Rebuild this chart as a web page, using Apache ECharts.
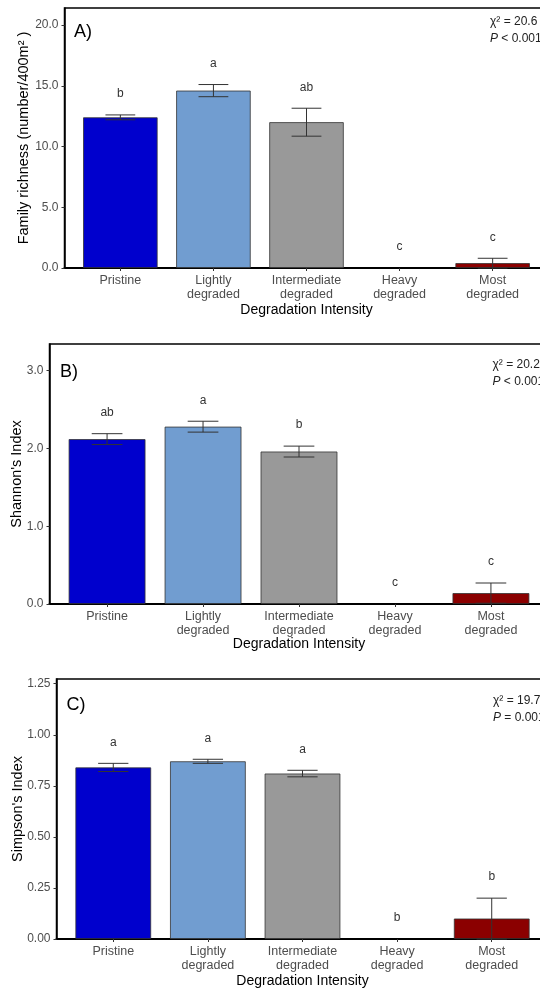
<!DOCTYPE html>
<html>
<head>
<meta charset="utf-8">
<script src="https://cdn.jsdelivr.net/npm/echarts@6/dist/echarts.min.js"></script>
<style>
html,body{margin:0;padding:0;background:#fff;}
#chart{width:540px;height:989px;}
</style>
</head>
<body>
<div id="chart"></div>
<script>
// ---- data ----
const categories = ['Pristine', 'Lightly\ndegraded', 'Intermediate\ndegraded', 'Heavy\ndegraded', 'Most\ndegraded'];
const barColors = ['#0000CD', '#719DD0', '#999999', '#999999', '#8B0000'];

const richnessMean = [12.4, 14.6, 12.0, 0, 0.4];
const richnessSE   = [0.2, 0.5, 1.15, 0, 0.4];
const richnessLetters = ['b', 'a', 'ab', 'c', 'c'];
const richnessTicks = [0, 5, 10, 15, 20];

const shannonMean = [2.12, 2.28, 1.96, 0, 0.14];
const shannonSE   = [0.07, 0.07, 0.07, 0, 0.13];
const shannonLetters = ['ab', 'a', 'b', 'c', 'c'];
const shannonTicks = [0, 1, 2, 3];

const simpsonMean = [0.84, 0.87, 0.81, 0, 0.10];
const simpsonSE   = [0.02, 0.01, 0.016, 0, 0.10];
const simpsonLetters = ['a', 'a', 'a', 'b', 'b'];
const simpsonTicks = [0, 0.25, 0.5, 0.75, 1.0, 1.25];

const panelLabels = ['A)', 'B)', 'C)'];
const chiValues = ['20.6', '20.2', '19.7'];
const pValues = ['< 0.001', '< 0.001', '= 0.001'];
const yTitles = ['Family richness (number/400m\u00B2 )', "Shannon's Index", "Simpson's Index"];
const xTitle = 'Degradation Intensity';
const catIndex = [0, 1, 2, 3, 4];

// ---- layout ----
const panels = [
  {mean: richnessMean, se: richnessSE, letters: richnessLetters, ticks: richnessTicks, max: 21.4, dec: 1,
   left: 64.5, top: 8, height: 260, yGap: 33.5, xGap: 35},
  {mean: shannonMean, se: shannonSE, letters: shannonLetters, ticks: shannonTicks, max: 3.343, dec: 1,
   left: 49.5, top: 344, height: 260, yGap: 25, xGap: 33},
  {mean: simpsonMean, se: simpsonSE, letters: simpsonLetters, ticks: simpsonTicks, max: 1.273, dec: 2,
   left: 56.5, top: 679, height: 260, yGap: 31, xGap: 35}
];
const W = 540, rightEdge = 548.5, xMin = -0.6, xMax = 4.6;
const FONT = 'Liberation Sans, Arial, sans-serif';

const grids = [], xAxes = [], yAxes = [], series = [], graphics = [];
panels.forEach((p, k) => {
  const width = rightEdge - p.left;
  const unit = width / (xMax - xMin);
  grids.push({left: p.left, top: p.top, height: p.height, width: width,
    outerBoundsMode: 'none', containLabel: false,
    show: true, borderColor: '#000', borderWidth: 1.5, backgroundColor: 'transparent'});
  xAxes.push({type: 'value', gridIndex: k, min: xMin, max: xMax,
    axisLine: {show: true, onZero: false, lineStyle: {color: '#000', width: 2}},
    axisTick: {show: true, length: 3, customValues: catIndex, lineStyle: {color: '#333'}},
    axisLabel: {customValues: catIndex, formatter: v => categories[Math.round(v)] || '',
      color: '#4D4D4D', fontSize: 12.5, lineHeight: 14, margin: 6, fontFamily: FONT},
    splitLine: {show: false},
    name: xTitle, nameLocation: 'middle', nameGap: p.xGap, nameMoveOverlap: false,
    nameTextStyle: {color: '#000', fontSize: 14, fontFamily: FONT}
  });
  yAxes.push({type: 'value', gridIndex: k, min: 0, max: p.max,
    axisLine: {show: true, onZero: false, lineStyle: {color: '#000', width: 1.5}},
    axisTick: {show: true, length: 3, customValues: p.ticks, lineStyle: {color: '#333'}},
    axisLabel: {customValues: p.ticks, formatter: v => v.toFixed(p.dec),
      color: '#4D4D4D', fontSize: 12, margin: 6, fontFamily: FONT},
    splitLine: {show: false},
    name: yTitles[k], nameLocation: 'middle', nameGap: p.yGap, nameMoveOverlap: false,
    nameTextStyle: {color: '#000', fontSize: 14.5, fontFamily: FONT}
  });
  series.push({type: 'bar', xAxisIndex: k, yAxisIndex: k, barWidth: 0.8 * unit,
    data: p.mean.map((m, i) => ({value: [i, m],
      itemStyle: {color: barColors[i], borderColor: '#333', borderWidth: m === 0 ? 0 : 0.8}})),
    silent: true, animation: false, z: 2
  });
  series.push({type: 'custom', xAxisIndex: k, yAxisIndex: k, z: 5, silent: true, animation: false,
    data: p.mean.map((m, i) => [i, m, p.se[i]]),
    renderItem: (params, api) => {
      const i = api.value(0), m = api.value(1), e = api.value(2);
      const hi = m + e, lo = Math.max(0, m - e);
      const pt = api.coord([i, hi]), pb = api.coord([i, lo]);
      const half = api.size([0.16, 0])[0];
      const children = [];
      if (e > 0) {
        const ls = {stroke: '#333', lineWidth: 1};
        children.push({type: 'line', shape: {x1: pt[0], y1: pt[1], x2: pb[0], y2: pb[1]}, style: ls});
        children.push({type: 'line', shape: {x1: pt[0] - half, y1: pt[1], x2: pt[0] + half, y2: pt[1]}, style: ls});
        children.push({type: 'line', shape: {x1: pb[0] - half, y1: pb[1], x2: pb[0] + half, y2: pb[1]}, style: ls});
      }
      children.push({type: 'text', style: {text: p.letters[params.dataIndex], x: pt[0], y: pt[1] - 21,
        align: 'center', verticalAlign: 'middle', fill: '#333', font: '12px ' + FONT}});
      return {type: 'group', children: children};
    }
  });
});

const labelPos = [{x: 74, y: 33}, {x: 60, y: 373}, {x: 66.5, y: 706}];
const chiPos = [{x: 490, y: 20}, {x: 492.5, y: 363}, {x: 493, y: 699}];
panelLabels.forEach((t, k) => {
  graphics.push({type: 'text', left: labelPos[k].x, top: labelPos[k].y - 10,
    style: {text: t, fill: '#000', font: '18px ' + FONT}});
  graphics.push({type: 'text', left: chiPos[k].x, top: chiPos[k].y - 7,
    style: {text: '\u03C7\u00B2 = ' + chiValues[k] + '\n{i|P} ' + pValues[k], fill: '#222',
      font: '12px ' + FONT, lineHeight: 17,
      rich: {i: {fontStyle: 'italic', fontSize: 12, fontFamily: FONT, fill: '#222'}}}});
});

const chart = echarts.init(document.getElementById('chart'), null, {renderer: 'canvas'});
chart.setOption({
  animation: false,
  backgroundColor: '#fff',
  grid: grids, xAxis: xAxes, yAxis: yAxes, series: series, graphic: graphics
});
</script>
</body>
</html>
